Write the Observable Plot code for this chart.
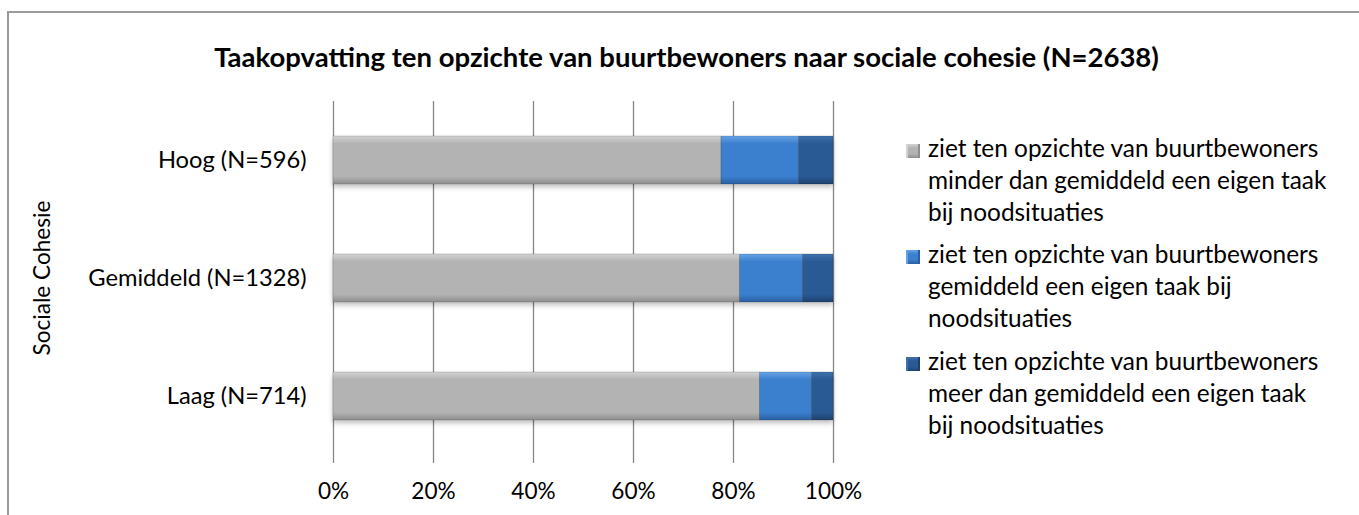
<!DOCTYPE html>
<html>
<head>
<meta charset="utf-8">
<script src="https://cdn.jsdelivr.net/npm/d3@7"></script>
<script src="https://cdn.jsdelivr.net/npm/@observablehq/plot@0.6"></script>
<style>
  body { margin: 0; background: #fff; }
  #wrap { position: relative; width: 1359px; height: 515px; overflow: hidden; background: #fff; font-family: Lato, "Noto Sans", sans-serif; color: #000; }
  #frame { position: absolute; left: 7px; top: 11px; width: 1400px; height: 600px; border: 2px solid #9a9a9a; box-sizing: border-box; }
  #title { position: absolute; left: 0; width: 1373px; top: 42px; text-align: center; font-weight: bold; font-size: 27.5px; line-height: 30px; white-space: nowrap; }
  #ylab { position: absolute; left: 41px; top: 278px; transform: translate(-50%, -50%) rotate(-90deg); font-size: 22.6px; white-space: nowrap; }
  #chart { position: absolute; left: 0; top: 0; }
  #legend { position: absolute; left: 906px; top: 0; }
  .item { position: absolute; left: 0; width: 450px; }
  .sw { position: absolute; left: 0; top: 3px; width: 14px; height: 14px; }
  .tx { position: absolute; left: 22px; top: -9.5px; font-size: 24.4px; line-height: 32.3px; white-space: nowrap; }
</style>
</head>
<body>
<div id="wrap">
  <div id="frame"></div>
  <div id="chart"></div>
  <div id="title"></div>
  <div id="ylab"></div>
  <div id="legend"></div>
</div>
<script>
const title = "Taakopvatting ten opzichte van buurtbewoners naar sociale cohesie (N=2638)";
const yTitle = "Sociale Cohesie";
const categories = ["Hoog (N=596)", "Gemiddeld (N=1328)", "Laag (N=714)"];
const seriesNames = [
  "ziet ten opzichte van buurtbewoners minder dan gemiddeld een eigen taak bij noodsituaties",
  "ziet ten opzichte van buurtbewoners gemiddeld een eigen taak bij noodsituaties",
  "ziet ten opzichte van buurtbewoners meer dan gemiddeld een eigen taak bij noodsituaties"
];
const legendLines = [
  ["ziet ten opzichte van buurtbewoners", "minder dan gemiddeld een eigen taak", "bij noodsituaties"],
  ["ziet ten opzichte van buurtbewoners", "gemiddeld een eigen taak bij", "noodsituaties"],
  ["ziet ten opzichte van buurtbewoners", "meer dan gemiddeld een eigen taak", "bij noodsituaties"]
];
const minderValues = [77.6, 81.3, 85.3];
const gemiddeldValues = [15.5, 12.6, 10.4];
const meerValues = [6.9, 6.1, 4.3];
const xTicks = [0, 0.2, 0.4, 0.6, 0.8, 1];

const seriesValues = [minderValues, gemiddeldValues, meerValues];
const colors = [
  {light: "#d2d2d2", base: "#b3b3b3", dark: "#8e8e8e"},
  {light: "#66a3e6", base: "#3b7fcf", dark: "#2b5f9f"},
  {light: "#3f72ad", base: "#2a5a94", dark: "#1d416d"}
];
const gradIds = ["g0", "g1", "g2"];

const rows = [];
categories.forEach((c, i) => {
  seriesValues.forEach((vals, s) => {
    rows.push({cat: c, series: seriesNames[s], value: vals[i] / 100, fill: `url(#${gradIds[s]})`, order: s});
  });
});

const chart = Plot.plot({
  width: 900,
  height: 515,
  marginLeft: 333,
  marginRight: 67,
  marginTop: 101,
  marginBottom: 60,
  style: {fontFamily: "Lato, 'Noto Sans', sans-serif", fontSize: "22.6px", color: "#000", background: "transparent", overflow: "visible"},
  x: {domain: [0, 1], ticks: xTicks, tickFormat: d3.format(".0%")},
  y: {domain: categories, paddingInner: 0.593, paddingOuter: 0.2965},
  color: {type: "identity"},
  marks: [
    Plot.ruleX(xTicks, {stroke: "#878787", strokeWidth: 1.3, insetBottom: -8}),
    Plot.barX(rows, Plot.stackX({x: "value", y: "cat", fill: "fill", order: "order", stroke: "rgba(0,0,0,0.18)", strokeWidth: 0.8})),
    Plot.axisX({ticks: xTicks, tickFormat: d3.format(".0%"), tickSize: 0, tickPadding: 27, fontSize: 22.6, label: null}),
    Plot.axisY({tickSize: 0, tickPadding: 27, fontSize: 23.7, label: null})
  ]
});

// gradients for bevel look
const svg = d3.select(chart.tagName.toLowerCase() === "svg" ? chart : chart.querySelector("svg"));
const defs = svg.insert("defs", ":first-child");
colors.forEach((c, i) => {
  const g = defs.append("linearGradient").attr("id", gradIds[i]).attr("x1", 0).attr("y1", 0).attr("x2", 0).attr("y2", 1);
  [[0, c.light], [0.16, c.base], [0.84, c.base], [1, c.dark]].forEach(([o, col]) => {
    g.append("stop").attr("offset", o).attr("stop-color", col);
  });
});
const f = defs.append("filter").attr("id", "shadow").attr("x", "-5%").attr("y", "-20%").attr("width", "110%").attr("height", "160%");
f.append("feDropShadow").attr("dx", 0).attr("dy", 3).attr("stdDeviation", 2.5).attr("flood-color", "#000").attr("flood-opacity", 0.25);
svg.selectAll("g[aria-label='bar']").attr("filter", "url(#shadow)");

document.getElementById("chart").appendChild(chart);
document.getElementById("title").textContent = title;
document.getElementById("ylab").textContent = yTitle;

const legend = document.getElementById("legend");
const itemTops = [141, 247, 354];
legendLines.forEach((lines, i) => {
  const item = document.createElement("div");
  item.className = "item";
  item.style.top = itemTops[i] + "px";
  const sw = document.createElement("div");
  sw.className = "sw";
  const c = colors[i];
  sw.style.background = `linear-gradient(180deg, ${c.light} 0%, ${c.base} 30%, ${c.base} 70%, ${c.dark} 100%)`;
  sw.style.boxShadow = `inset 2px 0 0 ${c.light}, inset -2px 0 0 ${c.dark}`;
  item.appendChild(sw);
  const tx = document.createElement("div");
  tx.className = "tx";
  tx.innerHTML = lines.join("<br>");
  tx.title = seriesNames[i];
  item.appendChild(tx);
  legend.appendChild(item);
});
</script>
</body>
</html>
